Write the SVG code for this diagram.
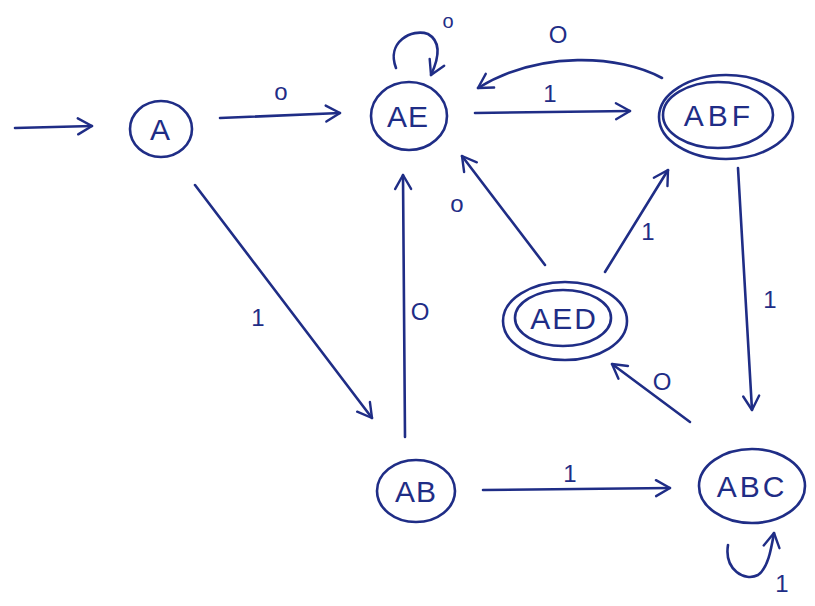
<svg xmlns="http://www.w3.org/2000/svg" width="815" height="606" viewBox="0 0 815 606">
  <style>
    .ln { fill: none; stroke: #1f2d86; stroke-width: 2.6; stroke-linecap: round; stroke-linejoin: round; }
    .nm { font-family: "Liberation Sans", Arial, sans-serif; font-size: 30px; fill: #1f2d86; text-anchor: middle; }
    .lb { font-family: "Liberation Sans", Arial, sans-serif; font-size: 24px; fill: #1f2d86; text-anchor: middle; }
  </style>
  <defs>
    <marker id="head" viewBox="0 0 20 20" refX="17" refY="10" markerWidth="20" markerHeight="20" markerUnits="userSpaceOnUse" orient="auto">
      <path d="M3,2 L17,10 L3,18" fill="none" stroke="#1f2d86" stroke-width="2.4" stroke-linecap="round" stroke-linejoin="round"/>
    </marker>
  </defs>
  <rect width="815" height="606" fill="#ffffff"/>

  <g id="connectors">
    <!-- start arrow -->
    <path class="ln" d="M15,128 L92,126" marker-end="url(#head)"/>
    <!-- A to AE on 0 -->
    <path class="ln" d="M220,118 L340,113" marker-end="url(#head)"/>
    <text class="lb" x="281" y="100">o</text>
    <!-- AE self loop on 0 -->
    <path class="ln" d="M396,68 C386,42 412,28 428,34 C442,42 438,60 431,75" marker-end="url(#head)"/>
    <text class="lb" x="448" y="28" style="font-size:20px">o</text>
    <!-- AE to ABF on 1 -->
    <path class="ln" d="M475,113 L630,111" marker-end="url(#head)"/>
    <text class="lb" x="550" y="102">1</text>
    <!-- ABF back to AE on 0 -->
    <path class="ln" d="M662,78 C620,55 540,50 478,88" marker-end="url(#head)"/>
    <text class="lb" x="558" y="43">O</text>
    <!-- A to AB on 1 -->
    <path class="ln" d="M195,185 L372,418" marker-end="url(#head)"/>
    <text class="lb" x="258" y="326">1</text>
    <!-- AB to AE on 0 -->
    <path class="ln" d="M405,437 L403,175" marker-end="url(#head)"/>
    <text class="lb" x="420" y="320">O</text>
    <!-- AED to AE on 0 -->
    <path class="ln" d="M545,265 L462,156" marker-end="url(#head)"/>
    <text class="lb" x="457" y="212">o</text>
    <!-- AED to ABF on 1 -->
    <path class="ln" d="M605,272 L668,170" marker-end="url(#head)"/>
    <text class="lb" x="648" y="240">1</text>
    <!-- ABF to ABC on 1 -->
    <path class="ln" d="M738,168 L752,410" marker-end="url(#head)"/>
    <text class="lb" x="770" y="308">1</text>
    <!-- ABC to AED on 0 -->
    <path class="ln" d="M690,422 L612,364" marker-end="url(#head)"/>
    <text class="lb" x="662" y="390">O</text>
    <!-- AB to ABC on 1 -->
    <path class="ln" d="M483,490 L670,488" marker-end="url(#head)"/>
    <text class="lb" x="570" y="482">1</text>
    <!-- ABC self loop on 1 -->
    <path class="ln" d="M728,545 C724,570 745,582 758,575 C768,568 771,550 774,533" marker-end="url(#head)"/>
    <text class="lb" x="782" y="592">1</text>
  </g>

  <g id="A">
    <ellipse class="ln" cx="161" cy="129" rx="31" ry="28"/>
    <text class="nm" x="160" y="140">A</text>
  </g>
  <g id="AE">
    <ellipse class="ln" cx="409" cy="116" rx="38" ry="34"/>
    <text class="nm" x="408" y="127" letter-spacing="1">AE</text>
  </g>
  <g id="ABF">
    <ellipse class="ln" cx="726" cy="117" rx="67" ry="42"/>
    <ellipse class="ln" cx="718" cy="115" rx="55" ry="33"/>
    <text class="nm" x="719" y="126" letter-spacing="4">ABF</text>
  </g>
  <g id="AED">
    <ellipse class="ln" cx="565" cy="321" rx="62" ry="39"/>
    <ellipse class="ln" cx="563" cy="318" rx="48" ry="28"/>
    <text class="nm" x="564" y="329" letter-spacing="2">AED</text>
  </g>
  <g id="AB">
    <ellipse class="ln" cx="416" cy="491" rx="39" ry="31"/>
    <text class="nm" x="416" y="502" letter-spacing="1">AB</text>
  </g>
  <g id="ABC">
    <ellipse class="ln" cx="752" cy="486" rx="53" ry="37"/>
    <text class="nm" x="752" y="497" letter-spacing="3">ABC</text>
  </g>
</svg>
